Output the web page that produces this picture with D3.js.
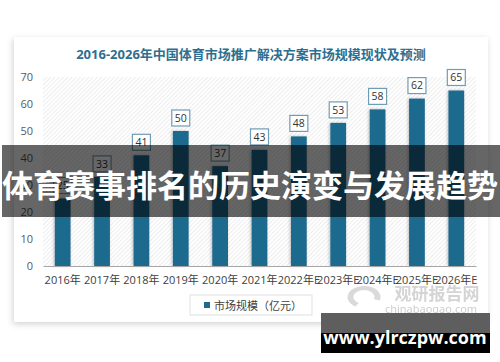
<!DOCTYPE html>
<html>
<head>
<meta charset="utf-8">
<script src="https://cdn.jsdelivr.net/npm/d3@7"></script>
<style>
  body { margin: 0; background: #ffffff; }
  svg { display: block; }
  text { font-family: "Noto Sans", "Noto Sans CJK SC", sans-serif; }
</style>
</head>
<body>
<svg id="canvas" width="500" height="362"></svg>
<script>
const title = "2016-2026年中国体育市场推广解决方案市场规模现状及预测";
const years = ["2016年", "2017年", "2018年", "2019年", "2020年", "2021年",
               "2022年E", "2023年E", "2024年E", "2025年E", "2026年E"];
const marketSize = [25, 33, 41, 50, 37, 43, 48, 53, 58, 62, 65];
const yTicks = [0, 10, 20, 30, 40, 50, 60, 70];
const legendLabel = "市场规模（亿元）";
const bannerText = "体育赛事排名的历史演变与发展趋势";
const siteText = "www.ylrczpw.com";

const barColor = "#1f6a8e";
const titleColor = "#2c6f90";

// plot frame
const plot = { left: 43, right: 476, top: 77, bottom: 266 };

const svg = d3.select("#canvas");
const defs = svg.append("defs");

// card shadow
const shadow = defs.append("filter").attr("id", "shadow")
    .attr("x", "-5%").attr("y", "-5%").attr("width", "110%").attr("height", "110%");
shadow.append("feDropShadow").attr("dx", -1).attr("dy", 2)
    .attr("stdDeviation", 3).attr("flood-color", "#000").attr("flood-opacity", 0.18);

const barShadow = defs.append("filter").attr("id", "barshadow")
    .attr("x", "-40%").attr("y", "-10%").attr("width", "180%").attr("height", "120%");
barShadow.append("feDropShadow").attr("dx", -1).attr("dy", 0)
    .attr("stdDeviation", 1.5).attr("flood-color", "#000").attr("flood-opacity", 0.25);

// hatched plot background
const hatch = defs.append("pattern").attr("id", "hatch")
    .attr("patternUnits", "userSpaceOnUse")
    .attr("width", 3).attr("height", 3)
    .attr("patternTransform", "rotate(45)");
hatch.append("rect").attr("width", 3).attr("height", 3).attr("fill", "#ffffff");
hatch.append("line").attr("x1", 0).attr("y1", 0).attr("x2", 0).attr("y2", 3)
    .attr("stroke", "#dcdcdc").attr("stroke-width", 1);

// card
svg.append("rect")
    .attr("x", 14).attr("y", 37).attr("width", 474).attr("height", 285)
    .attr("fill", "#ffffff")
    .attr("filter", "url(#shadow)");

svg.append("text")
    .attr("x", 251).attr("y", 59)
    .attr("text-anchor", "middle")
    .attr("font-size", 13).attr("font-weight", 700)
    .attr("fill", titleColor)
    .text(title);

const x = d3.scaleBand()
    .domain(years)
    .range([plot.left, plot.right])
    .paddingInner(0.6)
    .paddingOuter(0.3);

const y = d3.scaleLinear()
    .domain([0, 70])
    .range([plot.bottom, plot.top]);

svg.append("rect")
    .attr("x", plot.left).attr("y", plot.top)
    .attr("width", plot.right - plot.left).attr("height", plot.bottom - plot.top)
    .attr("fill", "url(#hatch)");

// y axis
const yAxis = svg.append("g")
    .attr("transform", "translate(" + (plot.left - 10) + ",0)")
    .call(d3.axisLeft(y).tickValues(yTicks).tickSize(0).tickPadding(0));
yAxis.select(".domain").remove();
yAxis.selectAll("text")
    .attr("font-size", 11).attr("fill", "#595959")
    .style("font-family", "'Open Sans', sans-serif");

// bars
svg.append("g")
    .selectAll("rect")
    .data(marketSize)
    .join("rect")
    .attr("x", (d, i) => x(years[i]))
    .attr("y", d => y(d))
    .attr("width", x.bandwidth())
    .attr("height", d => y(0) - y(d))
    .attr("fill", barColor)
    .attr("filter", "url(#barshadow)");

// x axis
const xAxis = svg.append("g")
    .attr("transform", "translate(0," + plot.bottom + ")")
    .call(d3.axisBottom(x).tickSize(0).tickPadding(10));
xAxis.select(".domain").attr("stroke", "#a6a6a6").attr("stroke-width", 1.2);
xAxis.selectAll("text")
    .attr("font-size", 11).attr("fill", "#404040")
    .style("font-family", "'Open Sans', 'Noto Sans CJK SC', sans-serif");

// value labels
const labels = svg.append("g")
    .selectAll("g")
    .data(marketSize)
    .join("g")
    .attr("transform", (d, i) =>
        "translate(" + (x(years[i]) + x.bandwidth() / 2) + "," + (y(d) - 13) + ")");

labels.append("rect")
    .attr("x", -9).attr("y", -8)
    .attr("width", 18).attr("height", 16)
    .attr("fill", "#ffffff")
    .attr("stroke", "#6f9db5").attr("stroke-width", 1.2);

labels.append("text")
    .attr("text-anchor", "middle")
    .attr("dy", "0.36em")
    .attr("font-size", 10.5).attr("fill", "#333333")
    .style("font-family", "'Open Sans', sans-serif")
    .text(d => d);

// legend
const legend = svg.append("g").attr("transform", "translate(190,295)");
legend.append("rect")
    .attr("width", 122).attr("height", 20)
    .attr("fill", "#ffffff").attr("stroke", "#e0e0e0");
legend.append("rect")
    .attr("x", 14).attr("y", 7).attr("width", 6).attr("height", 6)
    .attr("fill", barColor);
legend.append("text")
    .attr("x", 24).attr("y", 14.5)
    .attr("font-size", 11).attr("fill", "#404040")
    .text(legendLabel);

// faint source watermark
const mark = svg.append("g").attr("opacity", 0.9);
mark.append("path")
    .attr("d", d3.arc()({ innerRadius: 7, outerRadius: 11,
                          startAngle: -2.6, endAngle: 1.9 }))
    .attr("transform", "translate(364,297) scale(1.5,1)")
    .attr("fill", "#d6d6d6");
mark.append("text")
    .attr("x", 437).attr("y", 300)
    .attr("text-anchor", "middle")
    .attr("font-size", 17).attr("font-weight", 700)
    .attr("fill", "#d0d0d0")
    .style("font-family", "'Noto Sans CJK SC', sans-serif")
    .text("观研报告网");
mark.append("text")
    .attr("x", 431).attr("y", 313)
    .attr("text-anchor", "middle")
    .attr("font-size", 11)
    .attr("fill", "#c8c8c8")
    .text("chinabaogao.com");

// dark banner across the middle
svg.append("rect")
    .attr("x", 2).attr("y", 145).attr("width", 498).attr("height", 72)
    .attr("fill", "#000000").attr("fill-opacity", 0.6);
svg.append("text")
    .attr("x", 250).attr("y", 183)
    .attr("text-anchor", "middle")
    .attr("dominant-baseline", "central")
    .attr("font-size", 31).attr("font-weight", 700)
    .attr("fill", "#ffffff")
    .style("font-family", "'Noto Sans CJK SC', sans-serif")
    .text(bannerText);

// site tag bottom right
svg.append("rect")
    .attr("x", 321).attr("y", 313).attr("width", 169).attr("height", 40)
    .attr("fill", "#000000");
svg.append("rect")
    .attr("x", 321).attr("y", 313).attr("width", 169).attr("height", 20)
    .attr("fill", "#5e5e5e");
svg.append("text")
    .attr("x", 405).attr("y", 344)
    .attr("text-anchor", "middle")
    .attr("font-size", 18).attr("font-weight", 700)
    .attr("fill", "#ffffff")
    .style("font-family", "'Open Sans', sans-serif")
    .text(siteText);
</script>
</body>
</html>
